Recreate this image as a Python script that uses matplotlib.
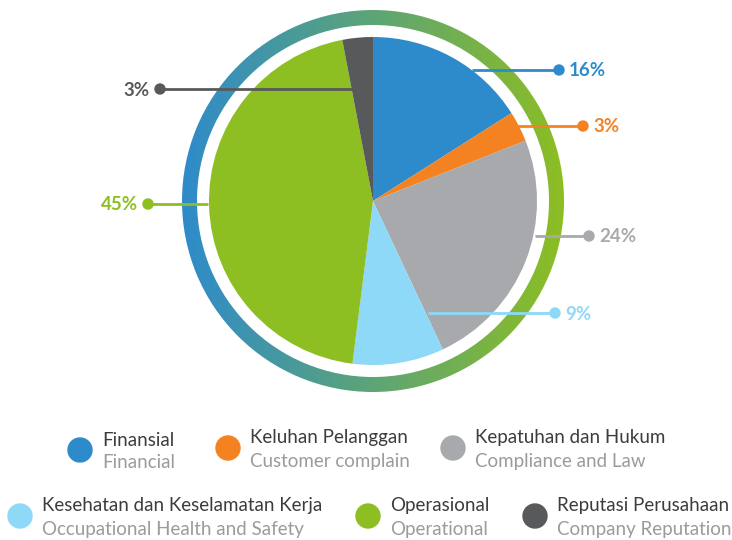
import numpy as np
import matplotlib
matplotlib.use("Agg")
from matplotlib import pyplot as plt
from matplotlib.patches import Wedge, Circle
from matplotlib.colors import LinearSegmentedColormap

# risk categories (Indonesian / English) and their share in percent
names_id = ["Finansial", "Keluhan Pelanggan", "Kepatuhan dan Hukum",
            "Kesehatan dan Keselamatan Kerja", "Operasional", "Reputasi Perusahaan"]
names_en = ["Financial", "Customer complain", "Compliance and Law",
            "Occupational Health and Safety", "Operational", "Company Reputation"]
shares = [16, 3, 24, 9, 45, 3]
colors = ["#2E8BCB", "#F58220", "#A7A9AC", "#8ED8F8", "#8DBE22", "#58595B"]

plt.rcParams["font.family"] = ["Lato", "DejaVu Sans"]

W, H = 732, 540
fig = plt.figure(figsize=(W / 100, H / 100), dpi=100)
ax = fig.add_axes([0, 0, 1, 1])
ax.axis("off")

cx, cy, r = 373, 201, 164

# y axis is flipped, so counterclock in data space runs clockwise on screen
ax.pie(shares, colors=colors, center=(cx, cy), radius=r, startangle=-90,
       counterclock=True, wedgeprops=dict(linewidth=0))

# gradient ring around the pie, blue on the left fading to green on the right
ring = Wedge((cx, cy), 191, 0, 360, width=15, facecolor="none", edgecolor="none")
ax.add_patch(ring)
cmap = LinearSegmentedColormap.from_list("ring", ["#2E8BCB", "#8DBE22"])
grad = np.linspace(0, 1, 256).reshape(1, -1)
img = ax.imshow(grad, cmap=cmap, extent=(cx - 192, cx + 192, cy + 192, cy - 192),
                aspect="auto", zorder=3)
img.set_clip_path(ring)

# leader lines: (y, inner x, dot x, side)
leaders = [(70, 472, 559, "r"), (126, 515, 583, "r"), (236, 535, 589, "r"),
           (313, 428, 555, "r"), (204, 208, 148, "l"), (89, 352, 160, "l")]
for (y, x0, x1, side), val, c in zip(leaders, shares, colors):
    ax.plot([x0, x1], [y, y], color=c, lw=2, zorder=4, solid_capstyle="butt")
    ax.add_patch(Circle((x1, y), 5, color=c, zorder=5))
    if side == "r":
        ax.text(x1 + 10, y + 1, f"{val}%", color=c, fontsize=13.5, fontweight="bold",
                ha="left", va="center")
    else:
        ax.text(x1 - 10, y + 1, f"{val}%", color=c, fontsize=13.5, fontweight="bold",
                ha="right", va="center")

# legend: marker centre positions
legend_pos = [(80, 450), (228, 448), (453, 448), (20, 516), (368, 516), (535, 516)]
for (x, y), n1, n2, c in zip(legend_pos, names_id, names_en, colors):
    ax.add_patch(Circle((x, y), 12, color=c))
    ax.text(x + 22, y - 10, n1, color="#3C3C3C", fontsize=13.5,
            ha="left", va="center")
    ax.text(x + 22, y + 13, n2, color="#9B9B9B", fontsize=13.5,
            ha="left", va="center")

ax.set_xlim(0, W)
ax.set_ylim(H, 0)
ax.set_aspect("equal")

fig.savefig("out.png", dpi=100)
